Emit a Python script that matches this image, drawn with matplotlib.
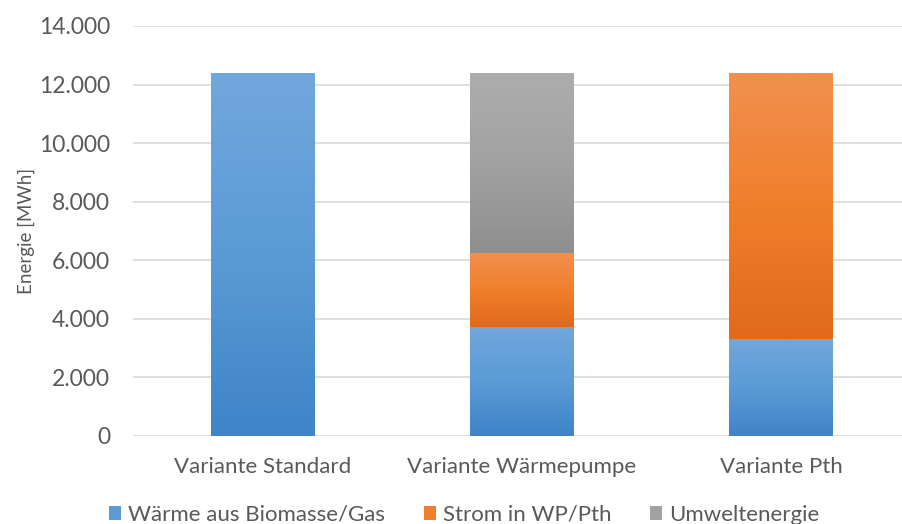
import numpy as np
import matplotlib.pyplot as plt
from matplotlib.colors import LinearSegmentedColormap
from matplotlib.ticker import FuncFormatter

plt.rcParams['font.family'] = ['Lato', 'DejaVu Sans']

# Energiebilanz je Variante [MWh]
varianten = ["Variante Standard", "Variante Wärmepumpe", "Variante Pth"]
waerme = [12400, 3730, 3320]
strom = [0, 2510, 9080]
umwelt = [0, 6160, 0]
serien = ["Wärme aus Biomasse/Gas", "Strom in WP/Pth", "Umweltenergie"]

# Verlauf je Serie: oben hell, unten dunkler
farben = {
    "Wärme aus Biomasse/Gas": ("#71a7dd", "#5b9bd5", "#3f84c8"),
    "Strom in WP/Pth": ("#f1904f", "#f07f2c", "#e06a1a"),
    "Umweltenergie": ("#adadad", "#a2a2a2", "#8e8e8e"),
}
textfarbe = "#595959"

fig = plt.figure(figsize=(9.03, 5.24), dpi=100)
ax = fig.add_axes([133 / 903, 1 - 436 / 524, 778 / 903, 410 / 524])

x = np.arange(len(varianten))
breite = 0.40
unten = np.zeros(len(varianten))
handles = []
for name, werte in zip(serien, [waerme, strom, umwelt]):
    werte = np.array(werte, dtype=float)
    top, mid, bot = farben[name]
    bars = ax.bar(x, werte, breite, bottom=unten, color=mid, zorder=3,
                  linewidth=0, label=name)
    handles.append(bars)
    cmap = LinearSegmentedColormap.from_list(name, [bot, mid, top])
    grad = np.linspace(0, 1, 256).reshape(-1, 1)
    for rect in bars:
        if rect.get_height() <= 0:
            continue
        x0, y0 = rect.get_x(), rect.get_y()
        im = ax.imshow(grad, cmap=cmap, aspect="auto", origin="lower",
                       extent=[x0, x0 + rect.get_width(), y0, y0 + rect.get_height()],
                       zorder=3.5, interpolation="bilinear")
        im.set_clip_path(rect)
    unten += werte

ax.set_xlim(-0.5, 2.5)
ax.set_ylim(0, 14000)
ax.set_yticks(np.arange(0, 14001, 2000))
ax.yaxis.set_major_formatter(FuncFormatter(lambda v, p: f"{int(v):,}".replace(",", ".")))
ax.set_xticks(x)
ax.set_xticklabels(varianten)
ax.tick_params(length=0, colors=textfarbe, labelsize=16)
ax.tick_params(axis="y", labelsize=16.5, pad=16.5)
ax.tick_params(axis="x", pad=15)
ax.grid(axis="y", color="#d9d9d9", linewidth=1.2, zorder=0)
for s in ax.spines.values():
    s.set_visible(False)
ax.set_ylabel("Energie [MWh]", color=textfarbe, fontsize=13.5, labelpad=3)

fig.legend(handles, serien, loc="lower center", bbox_to_anchor=(0.514, -0.04),
           ncol=3, frameon=False, fontsize=16, labelcolor=textfarbe,
           handlelength=0.55, handleheight=0.55, handletextpad=0.3, columnspacing=1.75)

fig.savefig("out.png", dpi=100)
